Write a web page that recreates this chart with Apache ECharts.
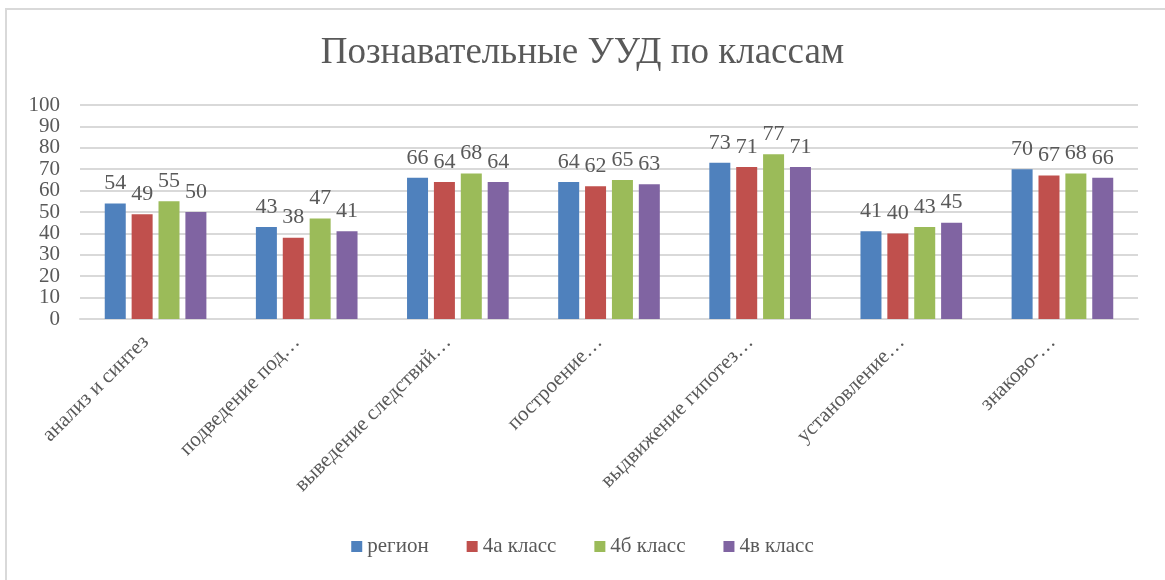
<!DOCTYPE html>
<html>
<head>
<meta charset="utf-8">
<script src="https://cdn.jsdelivr.net/npm/echarts@6/dist/echarts.min.js"></script>
<style>
  html, body { margin: 0; padding: 0; background: #fff; }
  #frame { position: absolute; left: 5px; top: 8px; width: 1160px; height: 572px;
           border-left: 2px solid #d9d9d9; border-top: 2px solid #d9d9d9; box-sizing: border-box; }
  #chart { position: absolute; left: 0; top: 0; width: 1165px; height: 580px; }
</style>
</head>
<body>
<div id="frame"></div>
<div id="chart"></div>
<script>
const categories = ['анализ и синтез', 'подведение под…', 'выведение следствий…', 'построение…',
  'выдвижение гипотез…', 'установление…', 'знаково-…']
const seriesNames = ['регион', '4а класс', '4б класс', '4в класс']
const region = [54, 43, 66, 64, 73, 41, 70]
const class4a = [49, 38, 64, 62, 71, 40, 67]
const class4b = [55, 47, 68, 65, 77, 43, 68]
const class4v = [50, 41, 64, 63, 71, 45, 66]
const colors = ['#4F81BD', '#C0504D', '#9BBB59', '#8064A2']

const font = "'Liberation Serif', 'DejaVu Serif', serif"
const textColor = '#595959'

const values = [region, class4a, class4b, class4v]
const series = values.map((data, i) => ({
  name: seriesNames[i],
  type: 'bar',
  data: data,
  barWidth: 21,
  barGap: '28%',
  itemStyle: { color: colors[i] },
  label: {
    show: true,
    position: 'top',
    distance: 9,
    color: textColor,
    fontFamily: font,
    fontSize: 22
  }
}))

const myChart = echarts.init(document.getElementById('chart'))
myChart.setOption({
  animation: false,
  textStyle: { fontFamily: font },
  title: {
    text: 'Познавательные УУД по классам',
    left: 'center',
    top: 30,
    textStyle: { color: textColor, fontFamily: font, fontSize: 37, fontWeight: 'normal' }
  },
  legend: {
    bottom: 18,
    left: 'center',
    itemWidth: 11,
    itemHeight: 11,
    itemGap: 38,
    icon: 'rect',
    textStyle: { color: textColor, fontFamily: font, fontSize: 21 },
    data: seriesNames
  },
  grid: { left: 80, right: 27, top: 105, bottom: 261, containLabel: false },
  xAxis: {
    type: 'category',
    data: categories,
    axisLine: { show: true, lineStyle: { color: '#d9d9d9', width: 2 } },
    axisTick: { show: false },
    axisLabel: { rotate: 45, color: textColor, fontFamily: font, fontSize: 21, margin: 10,
      interval: 0, padding: [0, 14, 0, 0] }
  },
  yAxis: {
    type: 'value',
    min: 0,
    max: 100,
    interval: 10,
    axisLine: { show: false },
    axisTick: { show: false },
    splitLine: { lineStyle: { color: '#d9d9d9', width: 2 } },
    axisLabel: { color: textColor, fontFamily: font, fontSize: 21, margin: 20 }
  },
  series: series
})
</script>
</body>
</html>
